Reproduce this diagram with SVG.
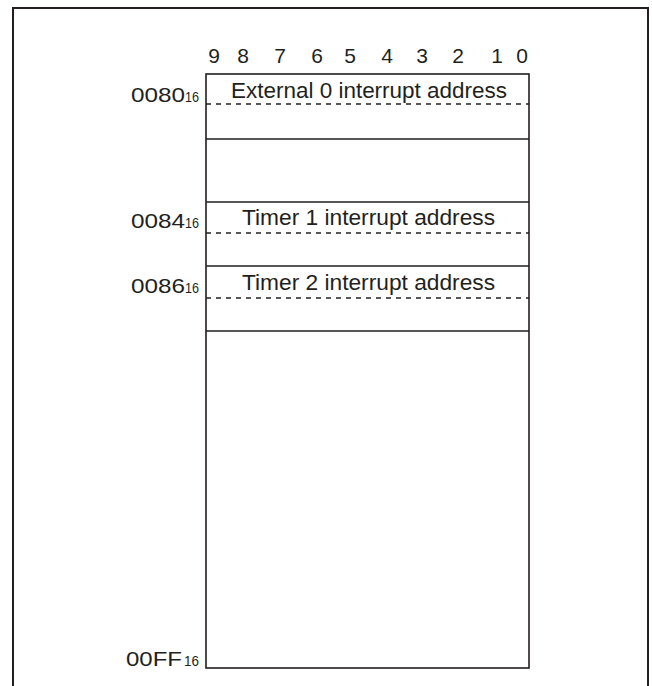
<svg xmlns="http://www.w3.org/2000/svg" width="652" height="686" viewBox="0 0 652 686">
<style>
text{font-family:"Liberation Sans",Arial,sans-serif;fill:#231f20}
.bit{font-size:21px;text-anchor:middle}
.lbl{font-size:22px;text-anchor:middle}
.adr{font-size:21px;text-anchor:end}
.sub{font-size:15px;text-anchor:end}
.solid{stroke:#231f20;stroke-width:1.6;fill:none}
.dash{stroke:#231f20;stroke-width:1.3;stroke-dasharray:5 5;fill:none}
</style>
<rect width="652" height="686" fill="#fff"/>
<path id="frame" d="M13,686 V8 H648 V686" fill="none" stroke="#231f20" stroke-width="2"/>
<g id="bits">
<text class="bit" x="214" y="63">9</text>
<text class="bit" x="243" y="63">8</text>
<text class="bit" x="280" y="63">7</text>
<text class="bit" x="317" y="63">6</text>
<text class="bit" x="350" y="63">5</text>
<text class="bit" x="387" y="63">4</text>
<text class="bit" x="422" y="63">3</text>
<text class="bit" x="458" y="63">2</text>
<text class="bit" x="497" y="63">1</text>
<text class="bit" x="522" y="63">0</text>
</g>
<g id="memory">
<rect class="solid" x="206" y="74" width="323" height="594"/>
</g>
<g id="ext0">
<line class="dash" x1="206" y1="104" x2="529" y2="104"/>
<line class="solid" x1="206" y1="139" x2="529" y2="139"/>
<text class="lbl" x="369" y="98" textLength="276" lengthAdjust="spacingAndGlyphs">External 0 interrupt address</text>
<text x="185" y="102" class="adr" textLength="54" lengthAdjust="spacingAndGlyphs">0080</text>
<text x="199" y="102" class="sub" textLength="14" lengthAdjust="spacingAndGlyphs">16</text>
</g>
<g id="timer1">
<line class="solid" x1="206" y1="202" x2="529" y2="202"/>
<line class="dash" x1="206" y1="233" x2="529" y2="233"/>
<text class="lbl" x="368.5" y="225" textLength="253" lengthAdjust="spacingAndGlyphs">Timer 1 interrupt address</text>
<text x="185" y="228" class="adr" textLength="54" lengthAdjust="spacingAndGlyphs">0084</text>
<text x="199" y="228" class="sub" textLength="14" lengthAdjust="spacingAndGlyphs">16</text>
</g>
<g id="timer2">
<line class="solid" x1="206" y1="266" x2="529" y2="266"/>
<line class="dash" x1="206" y1="298" x2="529" y2="298"/>
<line class="solid" x1="206" y1="331" x2="529" y2="331"/>
<text class="lbl" x="368.5" y="290" textLength="253" lengthAdjust="spacingAndGlyphs">Timer 2 interrupt address</text>
<text x="185" y="293" class="adr" textLength="54" lengthAdjust="spacingAndGlyphs">0086</text>
<text x="199" y="293" class="sub" textLength="14" lengthAdjust="spacingAndGlyphs">16</text>
</g>
<g id="end">
<text x="182" y="666" class="adr" textLength="56" lengthAdjust="spacingAndGlyphs">00FF</text>
<text x="199" y="666" class="sub" textLength="15" lengthAdjust="spacingAndGlyphs">16</text>
</g>
</svg>
